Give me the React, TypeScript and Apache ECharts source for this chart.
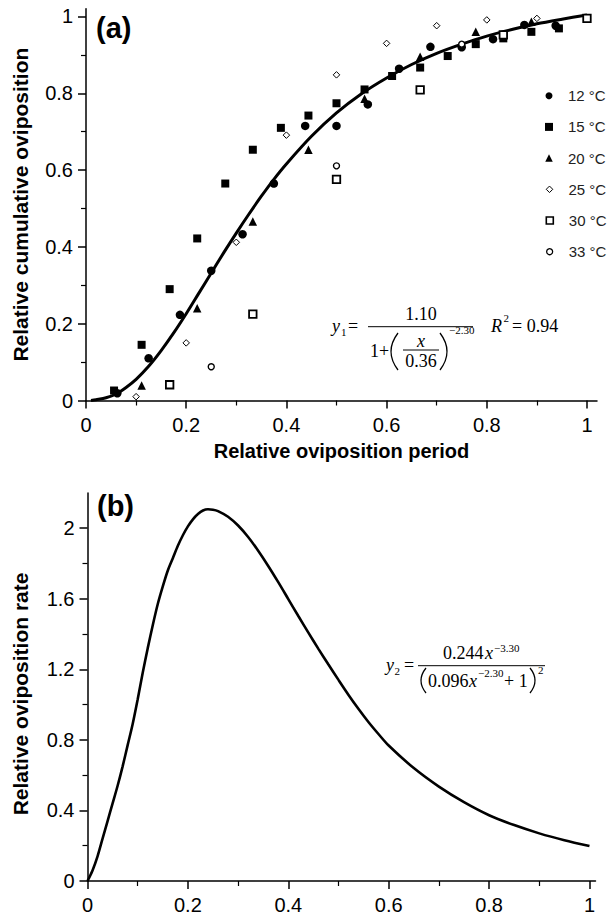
import React, { useEffect, useRef } from "react";
import * as echarts from "echarts";

// ---- Data ----
const fitX = [0.01, 0.02, 0.04, 0.06, 0.08, 0.10, 0.125, 0.15, 0.175, 0.20, 0.225, 0.25, 0.275, 0.30, 0.325, 0.35, 0.375, 0.40, 0.45, 0.50, 0.55, 0.60, 0.65, 0.70, 0.75, 0.80, 0.85, 0.90, 0.95, 1.0];
const fitY = [0.0, 0.002, 0.007, 0.017, 0.034, 0.055, 0.089, 0.130, 0.176, 0.226, 0.279, 0.332, 0.385, 0.436, 0.485, 0.532, 0.576, 0.616, 0.688, 0.749, 0.799, 0.840, 0.875, 0.904, 0.928, 0.949, 0.966, 0.981, 0.993, 1.004];

const x12 = [0.0625, 0.125, 0.1875, 0.25, 0.3125, 0.375, 0.4375, 0.5, 0.5625, 0.625, 0.6875, 0.75, 0.8125, 0.875, 0.9375];
const y12 = [0.019, 0.110, 0.223, 0.338, 0.433, 0.565, 0.715, 0.715, 0.771, 0.864, 0.921, 0.920, 0.941, 0.978, 0.976];

const x15 = [0.056, 0.111, 0.167, 0.222, 0.278, 0.333, 0.389, 0.444, 0.5, 0.556, 0.611, 0.667, 0.722, 0.778, 0.833, 0.889, 0.944];
const y15 = [0.026, 0.145, 0.290, 0.422, 0.565, 0.653, 0.710, 0.742, 0.774, 0.810, 0.845, 0.867, 0.897, 0.928, 0.943, 0.960, 0.969];

const x20 = [0.111, 0.222, 0.333, 0.444, 0.556, 0.667, 0.778, 0.889];
const y20 = [0.039, 0.240, 0.466, 0.653, 0.786, 0.895, 0.960, 0.986];

const x25 = [0.1, 0.2, 0.3, 0.4, 0.5, 0.6, 0.7, 0.8, 0.9];
const y25 = [0.010, 0.150, 0.412, 0.691, 0.848, 0.930, 0.976, 0.991, 0.995];

const x30 = [0.167, 0.333, 0.5, 0.667, 0.833, 1.0];
const y30 = [0.041, 0.225, 0.576, 0.809, 0.952, 0.995];

const x33 = [0.25, 0.5, 0.75];
const y33 = [0.088, 0.611, 0.928];

const rateX = [0, 0.01, 0.02, 0.03, 0.04, 0.05, 0.06, 0.07, 0.08, 0.09, 0.10, 0.11, 0.12, 0.13, 0.14, 0.15, 0.16, 0.17, 0.18, 0.19, 0.20, 0.21, 0.22, 0.23, 0.24, 0.25, 0.26, 0.28, 0.30, 0.32, 0.34, 0.36, 0.38, 0.40, 0.42, 0.44, 0.46, 0.48, 0.50, 0.52, 0.54, 0.56, 0.58, 0.60, 0.65, 0.70, 0.75, 0.80, 0.85, 0.90, 0.95, 1.00];
const rateY = [0, 0.06, 0.14, 0.24, 0.34, 0.44, 0.54, 0.65, 0.77, 0.89, 1.03, 1.18, 1.32, 1.45, 1.57, 1.67, 1.76, 1.83, 1.90, 1.96, 2.01, 2.05, 2.08, 2.10, 2.107, 2.105, 2.097, 2.065, 2.015, 1.95, 1.872, 1.786, 1.694, 1.598, 1.502, 1.408, 1.316, 1.227, 1.14, 1.055, 0.975, 0.90, 0.832, 0.768, 0.64, 0.535, 0.447, 0.373, 0.317, 0.27, 0.231, 0.198];

const seriesNames = ["12 °C", "15 °C", "20 °C", "25 °C", "30 °C", "33 °C"];
const xTickVals = [0, 0.2, 0.4, 0.6, 0.8, 1];
const xMinorVals = [0.1, 0.3, 0.5, 0.7, 0.9];
const yTickValsA = [0, 0.2, 0.4, 0.6, 0.8, 1];
const yMinorValsA = [0.1, 0.3, 0.5, 0.7, 0.9];
const yTickValsB = [0, 0.4, 0.8, 1.2, 1.6, 2];
const yMinorValsB = [0.2, 0.6, 1.0, 1.4, 1.8];

// ---- Styles ----
const SANS = "Liberation Sans";
const SERIF = "Liberation Serif";

const markerStyles = [
  { symbol: "circle", size: 8.5, fill: "#000", bw: 0, lw: 7, lbw: 0 },
  { symbol: "rect", size: 8, fill: "#000", bw: 0, lw: 8, lbw: 0 },
  { symbol: "triangle", size: 8.5, fill: "#000", bw: 0, lw: 7.5, lbw: 0 },
  { symbol: "diamond", size: 6.5, fill: "#fff", bw: 1, lw: 6.5, lbw: 1 },
  { symbol: "rect", size: 7.5, fill: "#fff", bw: 1.8, lw: 7, lbw: 1.6 },
  { symbol: "circle", size: 6, fill: "#fff", bw: 1.4, lw: 6, lbw: 1.3 },
];

const legendCenters = [95.7, 126.9, 158.1, 189.3, 220.5, 251.7];

const pairs = (xs: number[], ys: number[]) => xs.map((x, i) => [x, ys[i]]);
const scatterData = [pairs(x12, y12), pairs(x15, y15), pairs(x20, y20), pairs(x25, y25), pairs(x30, y30), pairs(x33, y33)];

const axisBase = (ticks: number[], margin: number) => ({
  type: "value" as const,
  axisLine: { show: true, onZero: false, lineStyle: { color: "#000", width: 1.5 } },
  axisTick: { show: true, length: 8, customValues: ticks, lineStyle: { color: "#000", width: 1.5 } },
  splitLine: { show: false },
  axisLabel: { customValues: ticks, color: "#000", fontFamily: SANS, fontSize: 20, margin },
  nameTextStyle: { color: "#000", fontFamily: SANS, fontSize: 21, fontWeight: "bold" as const },
});

// axis used only to draw the short in-between ticks
const minorAxis = (gridIndex: number, position: string, max: number, ticks: number[]) => ({
  type: "value" as const,
  gridIndex,
  position,
  min: 0,
  max,
  axisLine: { show: false, onZero: false },
  axisTick: { show: true, length: 5, customValues: ticks, lineStyle: { color: "#000", width: 1.2 } },
  axisLabel: { show: false },
  splitLine: { show: false },
});

type TOpt = { italic?: boolean; align?: string };
const T = (x: number, y: number, text: string, size: number, o: TOpt = {}) => ({
  type: "text",
  x,
  y,
  silent: true,
  style: {
    text,
    fontFamily: SERIF,
    fontSize: size,
    fontStyle: o.italic ? "italic" : "normal",
    fill: "#000",
    align: o.align || "left",
    textAlign: o.align || "left",
    verticalAlign: "middle",
    textVerticalAlign: "middle",
  },
});
const L = (x1: number, x2: number, y: number) => ({
  type: "line",
  silent: true,
  shape: { x1, y1: y, x2, y2: y },
  style: { stroke: "#000", lineWidth: 1 },
});
// thin tall bracket drawn as a quadratic curve
const P = (x: number, y1: number, y2: number, bulge: number) => ({
  type: "bezierCurve",
  silent: true,
  shape: { x1: x, y1, x2: x, y2, cpx1: x + bulge, cpy1: (y1 + y2) / 2 },
  style: { stroke: "#000", lineWidth: 1.3, fill: "none" },
});

const graphicElements = [
  // panel labels
  { type: "text", x: 96, y: 13, silent: true, style: { text: "(a)", fontFamily: SANS, fontSize: 29, fontWeight: "bold", fill: "#000", align: "left", textAlign: "left", verticalAlign: "top", textVerticalAlign: "top" } },
  { type: "text", x: 97, y: 491, silent: true, style: { text: "(b)", fontFamily: SANS, fontSize: 29, fontWeight: "bold", fill: "#000", align: "left", textAlign: "left", verticalAlign: "top", textVerticalAlign: "top" } },
  // formula (a)
  T(332, 326.4, "y", 18, { italic: true }),
  T(341, 332.3, "1", 11),
  T(348, 326.4, "=", 18),
  L(368, 473, 326.7),
  T(421, 313.9, "1.10", 18, { align: "center" }),
  T(370, 350.6, "1+", 18),
  P(398, 333, 370, -14),
  T(421, 340.6, "x", 18, { italic: true, align: "center" }),
  L(403, 439, 350),
  T(421, 360.9, "0.36", 18, { align: "center" }),
  P(440, 333, 370, 14),
  T(449, 330.3, "−2.30", 11),
  T(491, 326.4, "R", 18, { italic: true }),
  T(503.5, 318, "2", 11),
  T(512, 326.4, "= 0.94", 18),
  // formula (b)
  T(386, 664.9, "y", 18, { italic: true }),
  T(394.5, 670.5, "2", 11),
  T(404, 664.9, "=", 18),
  L(418, 545, 665.7),
  T(443, 653.3, "0.244", 18),
  T(485, 653.3, "x", 18, { italic: true }),
  T(494, 647.5, "−3.30", 11),
  P(426, 668, 693, -10),
  T(428, 681, "0.096", 18),
  T(469, 681, "x", 18, { italic: true }),
  T(478, 673, "−2.30", 11),
  T(504, 681, "+ 1", 18),
  P(530, 668, 693, 10),
  T(538, 670, "2", 11),
];

const legends = seriesNames.map((name, i) => {
  const m = markerStyles[i];
  return {
    show: true,
    data: [name],
    orient: "vertical",
    left: 549 - m.lw / 2,
    top: legendCenters[i] - 8,
    padding: 0,
    itemWidth: m.lw,
    itemHeight: m.lw,
    selectedMode: false,
    itemStyle: { borderWidth: m.lbw, borderColor: "#000" },
    textStyle: { fontFamily: SANS, fontSize: 15, color: "#222", lineHeight: 16, padding: [0, 0, 0, 14 - m.lw / 2] },
  };
});

const option: any = {
  animation: false,
  backgroundColor: "#fff",
  textStyle: { fontFamily: SANS },
  grid: [
    { left: 86, top: 8.8, width: 511, height: 391.7 },
    { left: 87.5, top: 492.9, width: 508, height: 389.4 },
  ],
  xAxis: [
    {
      ...axisBase(xTickVals, 14),
      gridIndex: 0,
      position: "bottom",
      min: 0,
      max: 1.02,
      interval: 0.2,
      name: "Relative oviposition period",
      nameLocation: "middle",
      nameGap: 40,
      nameTextStyle: { color: "#000", fontFamily: SANS, fontSize: 20, fontWeight: "bold" },
    },
    {
      ...axisBase(xTickVals, 14),
      gridIndex: 1,
      position: "bottom",
      min: 0,
      max: 1.012,
      interval: 0.2,
    },
    minorAxis(0, "bottom", 1.02, xMinorVals),
    minorAxis(1, "bottom", 1.012, xMinorVals),
  ],
  yAxis: [
    {
      ...axisBase(yTickValsA, 13),
      gridIndex: 0,
      position: "left",
      min: 0,
      max: 1.02,
      interval: 0.2,
      name: "Relative cumulative oviposition",
      nameLocation: "middle",
      nameGap: 55,
    },
    {
      ...axisBase(yTickValsB, 13),
      gridIndex: 1,
      position: "left",
      min: 0,
      max: 2.2,
      interval: 0.4,
      name: "Relative oviposition rate",
      nameLocation: "middle",
      nameGap: 57,
      nameTextStyle: { color: "#000", fontFamily: SANS, fontSize: 21, fontWeight: "bold", padding: [0, 14, 0, 0] },
    },
    minorAxis(0, "left", 1.02, yMinorValsA),
    minorAxis(1, "left", 2.2, yMinorValsB),
  ],
  legend: legends,
  graphic: graphicElements,
  series: [
    {
      type: "line",
      name: "fit",
      xAxisIndex: 0,
      yAxisIndex: 0,
      data: pairs(fitX, fitY),
      showSymbol: false,
      smooth: 0.3,
      lineStyle: { color: "#000", width: 3 },
      z: 2,
    },
    ...seriesNames.map((name, i) => {
      const m = markerStyles[i];
      return {
        type: "scatter",
        name,
        xAxisIndex: 0,
        yAxisIndex: 0,
        data: scatterData[i],
        symbol: m.symbol,
        symbolSize: m.size,
        itemStyle: { color: m.fill, borderColor: "#000", borderWidth: m.bw, opacity: 1 },
        z: 3 + i,
      };
    }),
    {
      type: "line",
      name: "rate",
      xAxisIndex: 1,
      yAxisIndex: 1,
      data: pairs(rateX, rateY),
      showSymbol: false,
      smooth: 0.3,
      lineStyle: { color: "#000", width: 2.6 },
    },
  ],
};

export default function App() {
  const ref = useRef<HTMLDivElement>(null);
  useEffect(() => {
    if (!ref.current) return;
    const chart = echarts.init(ref.current, null, { renderer: "svg" });
    chart.setOption(option);
    return () => chart.dispose();
  }, []);
  return (
    <div
      ref={ref}
      style={{ position: "fixed", left: 0, top: 0, width: 608, height: 915, background: "#fff" }}
    />
  );
}
